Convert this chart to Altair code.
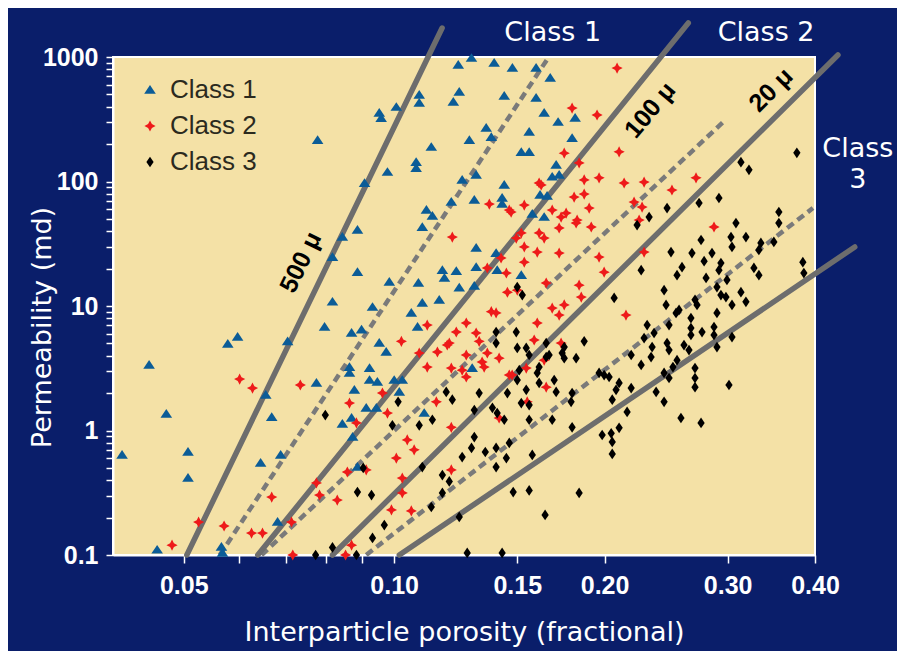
import altair as alt
import pandas as pd

# ---------------- data ----------------
classes = ["Class 1", "Class 2", "Class 3"]

c1_por = [0.0777, 0.0952, 0.0958, 0.1007, 0.1086, 0.1086, 0.113, 0.1075, 0.1075, 0.0978,
          0.0907, 0.1112, 0.1134, 0.1097, 0.0886, 0.0843, 0.129, 0.1235, 0.139, 0.1476,
          0.1596, 0.1672, 0.1239, 0.1215, 0.1281, 0.1354, 0.1377, 0.1437, 0.1596, 0.1639,
          0.1716, 0.1815, 0.1797, 0.156, 0.152, 0.156, 0.1705, 0.1683, 0.1722, 0.1251,
          0.131, 0.1207, 0.1302, 0.1437, 0.1427, 0.1427, 0.1617, 0.1655, 0.1576, 0.1639,
          0.131, 0.1172, 0.118, 0.1227, 0.131, 0.1399, 0.1404, 0.152, 0.1302, 0.1239,
          0.1083, 0.0984, 0.116, 0.1097, 0.1058, 0.108, 0.0974, 0.0952, 0.0816, 0.0886,
          0.0816, 0.0931, 0.0795, 0.0869, 0.0898, 0.0863, 0.0863, 0.0922, 0.0922, 0.0946,
          0.1, 0.1027, 0.1017, 0.0774, 0.0877, 0.0912, 0.0943, 0.0869, 0.0843, 0.1104,
          0.1293, 0.0446, 0.0578, 0.0597, 0.0704, 0.0655, 0.0472, 0.0668, 0.0408, 0.0507,
          0.0507, 0.0644, 0.0688, 0.0681, 0.0458, 0.0566, 0.0568, 0.0872, 0.0886]
c1_perm = [215, 355, 322, 396, 495, 427, 189, 143, 128, 119,
           97, 59, 52.8, 43, 40.8, 35.8, 980, 862, 895, 815,
           815, 678, 523, 435, 215, 269, 227, 486, 468, 355,
           300, 324, 223, 250, 172, 172, 136, 109, 113, 103,
           113, 68.4, 71, 93.7, 73.7, 65.9, 77.9, 76.5, 54.8, 51.8,
           29.2, 19.4, 16.8, 19.0, 20.5, 26.6, 19.4, 17.7, 14.5, 14.0,
           15.3, 15.6, 11.2, 10.6, 8.8, 6.78, 4.27, 5.04, 24.7, 18.7,
           10.8, 9.8, 6.78, 6.07, 6.45, 3.23, 2.9, 3.17, 2.54, 2.45,
           2.54, 2.54, 2.04, 2.41, 2.12, 1.52, 1.52, 1.26, 1.13, 1.38,
           3.17, 3.36, 4.95, 5.63, 5.2, 1.93, 1.36, 1.28, 0.636, 0.672,
           0.415, 0.548, 0.636, 0.184, 0.11, 0.116, 0.104, 0.886, 0.509]

c2_por = [0.1797, 0.1951, 0.2084, 0.1751, 0.1839, 0.187, 0.1612, 0.2098, 0.2133, 0.2278,
          0.2497, 0.2703, 0.2204, 0.2263, 0.1964, 0.1368, 0.1461, 0.1535, 0.147, 0.1623,
          0.1683, 0.1762, 0.1809, 0.187, 0.1901, 0.1827, 0.1733, 0.1211, 0.1359, 0.152,
          0.1495, 0.1612, 0.1639, 0.1722, 0.1821, 0.1914, 0.1535, 0.1602, 0.1722, 0.1422,
          0.1535, 0.1964, 0.1997, 0.2278, 0.1447, 0.165, 0.1452, 0.15, 0.1839, 0.1852,
          0.1683, 0.1751, 0.1722, 0.1399, 0.1377, 0.2146, 0.1268, 0.1227, 0.131, 0.1115,
          0.1024, 0.1199, 0.1153, 0.1359, 0.1268, 0.1413, 0.1115, 0.1207, 0.1251, 0.1336,
          0.1602, 0.1733, 0.1461, 0.1545, 0.1086, 0.1191, 0.1323, 0.1345, 0.1475, 0.1268,
          0.1586, 0.1639, 0.0734, 0.0863, 0.0883, 0.0962, 0.0978, 0.1149, 0.1207, 0.1413,
          0.155, 0.165, 0.0525, 0.0481, 0.0571, 0.0625, 0.0648, 0.0668, 0.0713, 0.0716,
          0.0774, 0.0782, 0.0829, 0.0857, 0.0912, 0.0869, 0.0852, 0.1044, 0.1068, 0.1007,
          0.1027, 0.1027, 0.0991, 0.1058, 0.1207, 0.0601, 0.0627, 0.2868, 0.2241]
c2_perm = [389, 342, 815, 169, 141, 103, 97.3, 173, 97.3, 99,
           85.4, 107, 68.4, 62.3, 107, 65.9, 59, 64.7, 56.8, 93.7,
           59, 55.8, 75, 79.3, 61.2, 49, 51.8, 35.8, 20.2, 38.6,
           35.1, 38.6, 35.1, 42.3, 46.4, 43.1, 29.8, 27.1, 26.6, 24.3,
           22.5, 24.7, 18.7, 27.1, 18.4, 15.3, 12.9, 13.4, 14.7, 11.8,
           9.63, 10.2, 8.46, 8.8, 9.0, 8.46, 7.3, 6.18, 6.07, 7.03,
           5.2, 5.04, 4.27, 4.19, 4.04, 3.81, 3.23, 3.17, 3.05, 3.55,
           7.3, 5.04, 2.79, 3.17, 4.19, 4.86, 5.2, 3.23, 2.79, 2.69,
           5.33, 3.67, 2.32, 1.66, 1.15, 2.0, 1.38, 1.7, 1.06, 1.26,
           1.7, 2.23, 0.184, 0.12, 0.171, 0.15, 0.15, 0.292, 0.184, 0.1,
           0.379, 0.303, 0.276, 0.464, 0.482, 0.12, 0.1, 0.84, 0.70, 0.6,
           0.415, 0.315, 0.23, 0.226, 0.482, 2.59, 2.19, 43.1, 49]

c3_por = [0.3768, 0.3134, 0.3218, 0.3551, 0.273, 0.2915, 0.2457, 0.2316, 0.3083, 0.3551,
          0.2748, 0.3033, 0.3043, 0.3186, 0.3347, 0.3325, 0.3493, 0.3843, 0.3856, 0.3271,
          0.3325, 0.2489, 0.2667, 0.2849, 0.2776, 0.2934, 0.2581, 0.2539, 0.2256, 0.2794,
          0.2915, 0.2993, 0.2896, 0.2934, 0.2983, 0.3134, 0.3186, 0.3043, 0.2694, 0.2712,
          0.2449, 0.2064, 0.2531, 0.2556, 0.2473, 0.2301, 0.2658, 0.2658, 0.2658, 0.2896,
          0.2868, 0.2868, 0.2757, 0.2354, 0.2278, 0.2339, 0.2457, 0.2473, 0.2598, 0.2641,
          0.2896, 0.3043, 0.2183, 0.2256, 0.2331, 0.2539, 0.2433, 0.2473, 0.2694, 0.2694,
          0.2694, 0.1997, 0.2098, 0.2077, 0.2051, 0.2183, 0.237, 0.2433, 0.3013, 0.2154,
          0.2572, 0.2748, 0.2098, 0.1984, 0.2044, 0.2226, 0.2433, 0.2505, 0.187, 0.1751,
          0.1821, 0.165, 0.1666, 0.15, 0.156, 0.1525, 0.15, 0.1399, 0.1399, 0.1495,
          0.151, 0.1612, 0.1964, 0.203, 0.1545, 0.1739, 0.1751, 0.165, 0.15, 0.1602,
          0.1612, 0.1694, 0.1705, 0.1797, 0.1791, 0.1545, 0.1452, 0.152, 0.156, 0.1323,
          0.1211, 0.1187, 0.1382, 0.1404, 0.1437, 0.156, 0.1683, 0.1797, 0.1013, 0.1134,
          0.0994, 0.0797, 0.1302, 0.1302, 0.1086, 0.0903, 0.0886, 0.0928, 0.0968, 0.0931,
          0.0816, 0.0883, 0.0772, 0.1097, 0.1172, 0.1199, 0.1172, 0.113, 0.1239, 0.1251,
          0.129, 0.135, 0.1399, 0.1399, 0.1447, 0.1461, 0.1576, 0.148, 0.156, 0.1644,
          0.1839, 0.1272, 0.1427, 0.2051, 0.2051]
c3_perm = [170, 143, 124, 56.9, 67.2, 73.7, 61.2, 51.8, 46.4, 46.4,
           33.9, 35.8, 29.8, 35.8, 32.1, 28.2, 32.7, 22.5, 18.4, 20.2,
           17.7, 27.1, 26.6, 26.6, 22.9, 22.1, 20.5, 17.7, 19.4, 16.8,
           19.4, 16.2, 14.2, 12.25, 11.8, 12.9, 10.8, 10.2, 11.2, 10.2,
           10.2, 11.6, 8.8, 9.3, 7.03, 7.03, 8.0, 6.65, 5.85, 8.8,
           6.78, 5.85, 6.18, 6.07, 5.53, 4.68, 5.04, 4.43, 4.86, 4.43,
           4.68, 5.63, 4.04, 3.36, 3.89, 3.67, 2.9, 2.64, 3.17, 2.64,
           2.23, 2.79, 2.41, 2.12, 1.77, 2.19, 2.04, 1.7, 2.32, 1.41,
           1.26, 1.15, 1.05, 0.92, 0.95, 44.7, 13.4, 3.23, 5.2, 3.81,
           3.81, 5.04, 4.04, 4.6, 4.04, 12.25, 14.2, 6.18, 5.04, 6.18,
           3.05, 3.23, 2.9, 2.69, 4.6, 4.19, 4.68, 3.89, 2.54, 2.9,
           2.41, 2.54, 2.04, 2.0, 1.7, 2.12, 2.0, 1.66, 1.6, 2.0,
           1.77, 2.04, 1.52, 1.38, 1.22, 1.22, 1.22, 1.06, 1.7, 1.22,
           1.1, 1.33, 1.46, 0.886, 1.1, 0.5, 0.32, 0.303, 0.174, 0.137,
           0.115, 0.1, 0.1, 0.509, 0.439, 0.39, 0.315, 0.243, 0.202, 0.612,
           0.725, 0.672, 0.725, 0.509, 0.6, 0.795, 0.636, 0.32, 0.33, 0.21,
           0.315, 0.104, 0.104, 0.81, 0.648]

# pore-throat / class boundary lines (start and end points)
solid_ids = ["500 μ", "100 μ", "20 μ", "lower"]
solid_por0 = [0.0505, 0.0638, 0.0816, 0.1017]
solid_perm0 = [0.1, 0.1, 0.1, 0.1]
solid_por1 = [0.1171, 0.2635, 0.4314, 0.456]
solid_perm1 = [1710, 1875, 1038, 29.8]

dashed_ids = ["d1", "d2", "d3"]
dashed_por0 = [0.0563, 0.0646, 0.0912]
dashed_perm0 = [0.1, 0.1, 0.1]
dashed_por1 = [0.1664, 0.2977, 0.3973]
dashed_perm1 = [1000, 312, 61.2]

# line labels
lbl_text = ["500 μ", "100 μ", "20 μ"]
lbl_por = [0.0735, 0.2324, 0.346]
lbl_perm = [22.5, 375, 543]

# class annotations outside the frame
ann_text = ["Class 1", "Class 2", "Class", "3"]
ann_por = [0.1686, 0.3405, 0.4606, 0.4606]
ann_perm = [1560, 1560, 182, 103]

x_ticks = [0.05, 0.06, 0.07, 0.08, 0.09, 0.1, 0.15, 0.2, 0.3, 0.4]
y_ticks = [0.1, 0.2, 0.3, 0.4, 0.5, 0.6, 0.7, 0.8, 0.9,
           1, 2, 3, 4, 5, 6, 7, 8, 9,
           10, 20, 30, 40, 50, 60, 70, 80, 90,
           100, 200, 300, 400, 500, 600, 700, 800, 900, 1000]

# ---------------- tables ----------------
pts = pd.concat([
    pd.DataFrame({"por": c1_por, "perm": c1_perm, "cls": classes[0]}),
    pd.DataFrame({"por": c2_por, "perm": c2_perm, "cls": classes[1]}),
    pd.DataFrame({"por": c3_por, "perm": c3_perm, "cls": classes[2]}),
], ignore_index=True)


def seg_table(ids, p0, k0, p1, k1):
    rows = []
    for i, name in enumerate(ids):
        rows.append({"id": name, "ord": 0, "por": p0[i], "perm": k0[i]})
        rows.append({"id": name, "ord": 1, "por": p1[i], "perm": k1[i]})
    return pd.DataFrame(rows)


solid_df = seg_table(solid_ids, solid_por0, solid_perm0, solid_por1, solid_perm1)
dashed_df = seg_table(dashed_ids, dashed_por0, dashed_perm0, dashed_por1, dashed_perm1)
lbl_df = pd.DataFrame({"t": lbl_text, "por": lbl_por, "perm": lbl_perm})
ann_df = pd.DataFrame({"t": ann_text, "por": ann_por, "perm": ann_perm})

# ---------------- styling ----------------
NAVY = "#0a1e6a"
BEIGE = "#f4e1a6"
TICK_FONT = "Liberation Sans"
TITLE_FONT = "DejaVu Sans"

xscale = alt.Scale(type="log", domain=[0.0396, 0.40], nice=False)
yscale = alt.Scale(type="log", domain=[0.1, 1000], nice=False)

x_axis = alt.Axis(
    values=x_ticks,
    labelExpr="indexof(['0.05','0.1','0.15','0.2','0.3','0.4'], format(datum.value,'~g')) >= 0 ? format(datum.value,'.2f') : ''",
    title="Interparticle porosity (fractional)",
    titleFont=TITLE_FONT, titleFontSize=27, titleFontWeight="normal", titleColor="white",
    titleY=77, titleBaseline="middle",
    labelFont=TICK_FONT, labelFontSize=25, labelFontWeight="bold", labelColor="white",
    labelPadding=10, labelOverlap=False, labelFlush=False,
    domainColor="white", domainWidth=2, tickColor="white", tickWidth=1.5, tickSize=8,
    grid=False,
)
y_axis = alt.Axis(
    values=y_ticks,
    labelExpr="indexof(['0.1','1','10','100','1000'], format(datum.value,'~g')) >= 0 ? format(datum.value,'~g') : ''",
    title="Permeability (md)",
    titleFont=TITLE_FONT, titleFontSize=27, titleFontWeight="normal", titleColor="white",
    titleX=-71, titleY=270, titleBaseline="middle", titleAlign="center",
    labelFont=TICK_FONT, labelFontSize=25, labelFontWeight="bold", labelColor="white",
    labelPadding=8, labelOverlap=False, labelFlush=False,
    domainColor="white", domainWidth=2, tickColor="white", tickWidth=1.5, tickSize=7,
    grid=False,
)

X = alt.X("por:Q", scale=xscale, axis=x_axis)
Y = alt.Y("perm:Q", scale=yscale, axis=y_axis)

tri = "M-1,0.65L0,-0.85L1,0.65Z"
star4 = "M0,-1L0.34,-0.34L1,0L0.34,0.34L0,1L-0.34,0.34L-1,0L-0.34,-0.34Z"
diam = "M0,-1L0.68,0L0,1L-0.68,0Z"

dashed = alt.Chart(dashed_df).mark_line(
    clip=False, color="#7a7a7a", strokeWidth=4.5, strokeDash=[8, 5]
).encode(x=X, y=Y, detail="id:N", order="ord:Q")

solid = alt.Chart(solid_df).mark_line(
    clip=False, color="#6d6d6d", strokeWidth=5.5, strokeCap="round"
).encode(x=X, y=Y, detail="id:N", order="ord:Q")

legend = alt.Legend(
    title=None, orient="none", legendX=24, legendY=20, padding=0,
    labelFont=TICK_FONT, labelFontSize=26, labelColor="#2b2a1e",
    symbolSize=100, symbolStrokeWidth=0, rowPadding=10, labelOffset=7,
)

points = alt.Chart(pts).mark_point(filled=True, opacity=1, strokeWidth=0).encode(
    x=X, y=Y,
    color=alt.Color("cls:N", scale=alt.Scale(domain=classes, range=["#0b5c97", "#ee1a1a", "#000000"]), legend=legend),
    shape=alt.Shape("cls:N", scale=alt.Scale(domain=classes, range=[tri, star4, diam]), legend=legend),
    size=alt.Size("cls:N", scale=alt.Scale(domain=classes, range=[135, 115, 165]), legend=None),
)

angles = {"500 μ": 296, "100 μ": 310, "20 μ": 315}
labels = [
    alt.Chart(lbl_df[lbl_df.t == t]).mark_text(
        clip=False, font=TICK_FONT, fontWeight="bold", fontSize=25, angle=a, color="black",
        align="center", baseline="middle"
    ).encode(x=X, y=Y, text="t:N")
    for t, a in angles.items()
]

ann = alt.Chart(ann_df).mark_text(
    clip=False, font=TITLE_FONT, fontSize=27, color="white", align="center", baseline="middle"
).encode(x=X, y=Y, text="t:N")

chart = alt.layer(dashed, solid, points, *labels, ann).properties(
    width=702, height=498, background=NAVY,
    padding={"left": 105, "top": 49, "right": 82, "bottom": 96},
    autosize=alt.AutoSizeParams(type="none"),
).configure_view(fill=BEIGE, stroke="white", strokeWidth=2)

chart.save("out.html", embed_options={"renderer": "svg", "actions": False})
